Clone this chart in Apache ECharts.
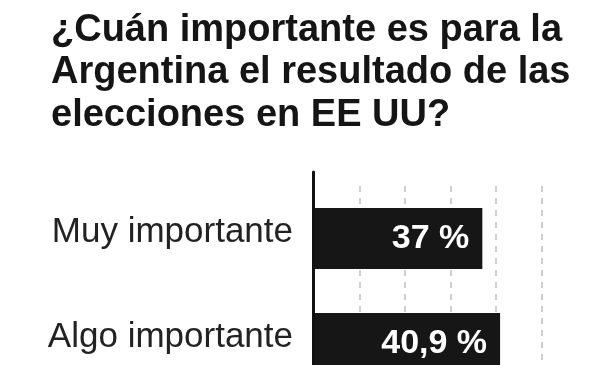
<!DOCTYPE html>
<html>
<head>
<meta charset="utf-8">
<script src="https://cdn.jsdelivr.net/npm/echarts@6/dist/echarts.min.js"></script>
<style>
html,body{margin:0;padding:0;background:#fff;}
#chart{width:600px;height:365px;}
</style>
</head>
<body>
<div id="chart"></div>
<script>
var titleText = '¿Cuán importante es para la\nArgentina el resultado de las\nelecciones en EE UU?';
var categories = ['Muy importante', 'Algo importante'];
var values = [37, 40.9];
var xTicks = [0, 10, 20, 30, 40, 50];

var chart = echarts.init(document.getElementById('chart'), null, {renderer: 'canvas'});
var option = {
  backgroundColor: '#ffffff',
  animation: false,
  title: {
    text: titleText,
    left: 51,
    top: 9,
    padding: 0,
    textStyle: {
      fontFamily: 'Liberation Sans, Arial, sans-serif',
      fontSize: 38,
      fontWeight: 'bold',
      lineHeight: 42.5,
      color: '#151515'
    }
  },
  grid: [
    {left: 314, width: 227.5, top: 186, height: 210, containLabel: false, outerBoundsMode: 'none'},
    {left: 313, width: 228.5, top: 172, height: 224, containLabel: false, outerBoundsMode: 'none'}
  ],
  xAxis: [
    {
      gridIndex: 0,
      type: 'value',
      min: xTicks[0],
      max: xTicks[xTicks.length - 1],
      interval: 10,
      axisLine: {show: false},
      axisTick: {show: false},
      axisLabel: {show: false},
      splitLine: {show: true, lineStyle: {color: '#cfcfcf', width: 2, type: [6, 6]}}
    },
    {
      gridIndex: 1,
      type: 'value',
      min: 0,
      max: 50,
      show: false
    }
  ],
  yAxis: [
    {
      gridIndex: 0,
      type: 'category',
      inverse: true,
      data: categories,
      axisLine: {show: false},
      axisTick: {show: false},
      axisLabel: {
        margin: 21,
        verticalAlign: 'bottom',
        lineHeight: 12,
        fontFamily: 'Liberation Sans, Arial, sans-serif',
        fontSize: 35,
        color: '#222222'
      }
    },
    {
      gridIndex: 1,
      type: 'value',
      z: 5,
      axisLine: {show: true, onZero: false, lineStyle: {color: '#111111', width: 3}},
      axisTick: {show: false},
      axisLabel: {show: false},
      splitLine: {show: false}
    }
  ],
  series: [{
    type: 'bar',
    xAxisIndex: 0,
    yAxisIndex: 0,
    data: values,
    barWidth: 61,
    itemStyle: {color: '#161616'},
    label: {
      show: true,
      position: 'insideRight',
      distance: 13,
      fontFamily: 'Liberation Sans, Arial, sans-serif',
      fontSize: 34,
      fontWeight: 'bold',
      color: '#ffffff',
      formatter: function (p) { return String(p.value).replace('.', ',') + ' %'; }
    }
  }]
};
chart.setOption(option);
</script>
</body>
</html>
